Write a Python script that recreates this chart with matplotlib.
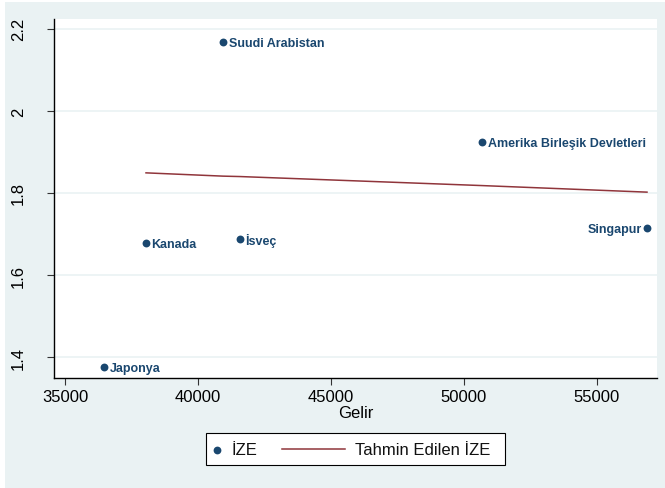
import matplotlib.pyplot as plt
from matplotlib.patches import Rectangle
from matplotlib.lines import Line2D

# Ülkeler, gelir ve İZE değerleri
ulkeler = ["Suudi Arabistan", "Amerika Birleşik Devletleri", "Singapur",
           "Kanada", "İsveç", "Japonya"]
gelir = [40940, 50677, 56880, 38045, 41579, 36466]
ize = [2.168, 1.924, 1.715, 1.678, 1.688, 1.376]

# Tahmin edilen İZE (Japonya için tahmin yok)
tahmin_gelir = [38045, 40940, 41579, 50677, 56880]
tahmin_ize = [1.849, 1.841, 1.840, 1.818, 1.802]

lacivert = "#1a476f"
bordo = "#90353b"
arka = "#eaf2f3"

plt.rcParams['font.family'] = ['Liberation Sans', 'DejaVu Sans']

W, H = 665, 489
fig = plt.figure(figsize=(W / 100, H / 100), dpi=100)
fig.patch.set_facecolor("white")
fig.patches.append(Rectangle((5 / W, 0), 1, 1 - 3 / H, transform=fig.transFigure,
                             facecolor=arka, edgecolor="none", zorder=-10))

ax = fig.add_axes([54 / W, 1 - 379 / H, (657 - 54) / W, (379 - 20) / H])
ax.set_facecolor("white")

ax.plot(tahmin_gelir, tahmin_ize, color=bordo, lw=1.1, zorder=2)
ax.scatter(gelir, ize, s=32, color=lacivert, zorder=3, linewidths=0)

for ad, x, y in zip(ulkeler, gelir, ize):
    if ad == "Singapur":
        ax.annotate(ad, (x, y), xytext=(-4, -1), textcoords="offset points",
                    ha="right", va="center", fontsize=9, fontweight="bold", color=lacivert)
    else:
        ax.annotate(ad, (x, y), xytext=(4, -1), textcoords="offset points",
                    ha="left", va="center", fontsize=9, fontweight="bold", color=lacivert)

ax.set_xlim(34586, 57256)
ax.set_ylim(1.349, 2.224)
ax.set_xticks([35000, 40000, 45000, 50000, 55000])
ax.set_yticks([1.4, 1.6, 1.8, 2.0, 2.2])
ax.set_yticklabels(["1.4", "1.6", "1.8", "2", "2.2"], rotation=90, va="center")
ax.grid(axis="y", color=arka, lw=1.2)
ax.set_axisbelow(True)

for s in ["top", "right"]:
    ax.spines[s].set_visible(False)
for s in ["left", "bottom"]:
    ax.spines[s].set_color("black")
    ax.spines[s].set_linewidth(1)
ax.tick_params(labelsize=12, length=4.7, color="#333333")
ax.tick_params(axis="x", pad=3)
ax.tick_params(axis="y", pad=15.5)

ax.set_xlabel("Gelir", fontsize=12, labelpad=1)

# lejant: kutu, nokta, çizgi ve yazılar
def px(x, y):
    return x / W, 1 - y / H

fig.patches.append(Rectangle(px(206, 466), (505 - 206) / W, (466 - 434) / H,
                             transform=fig.transFigure, facecolor="white",
                             edgecolor="black", lw=0.8))
mx, my = px(217, 451)
fig.lines.append(Line2D([mx], [my], transform=fig.transFigure, marker="o",
                        markersize=5.6, color=lacivert, markeredgewidth=0, ls="none"))
l1, ly = px(282, 450)
l2, _ = px(345, 450)
fig.lines.append(Line2D([l1, l2], [ly, ly], transform=fig.transFigure, color=bordo, lw=1.1))
tx, ty = px(231, 451)
fig.text(tx, ty, "İZE", fontsize=12, ha="left", va="center", color="#111111")
tx, ty = px(355, 451)
fig.text(tx, ty, "Tahmin Edilen İZE", fontsize=12, ha="left", va="center", color="#111111")

fig.savefig("out.png", dpi=100, facecolor=fig.get_facecolor())
